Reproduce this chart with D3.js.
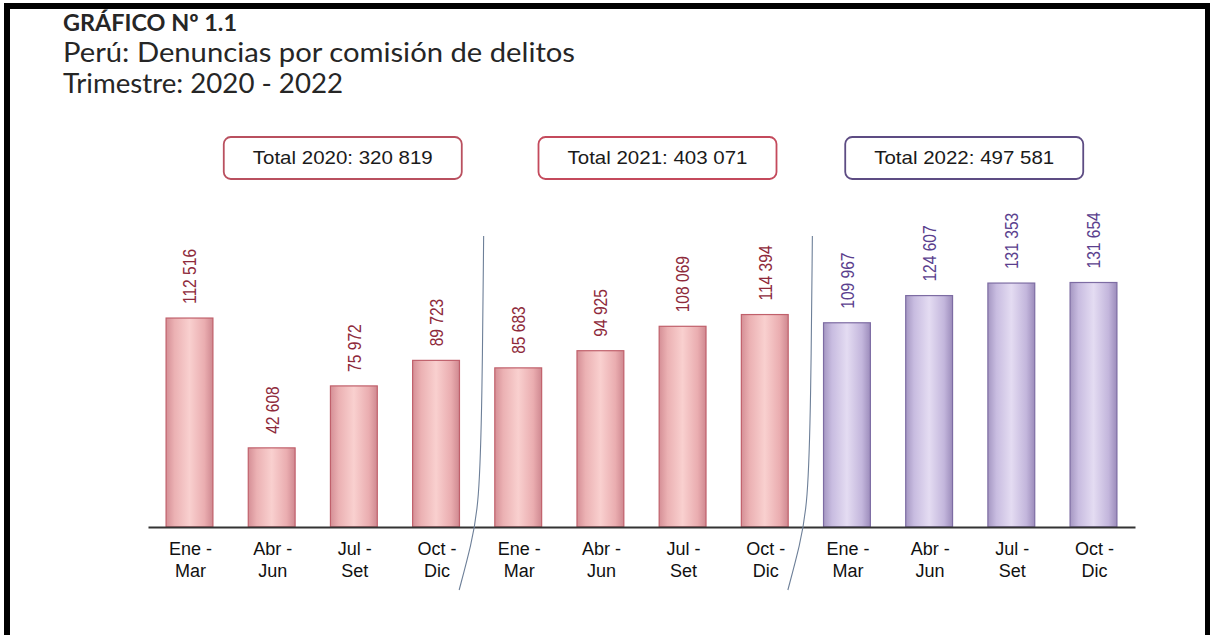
<!DOCTYPE html>
<html>
<head>
<meta charset="utf-8">
<script src="https://cdn.jsdelivr.net/npm/d3@7"></script>
<style>
  html, body { margin: 0; padding: 0; background: #fff; }
  svg { display: block; }
</style>
</head>
<body>
<div id="chart"></div>
<script>
// data
const years = ['2020', '2021', '2022'];
const quarters = [['Ene -', 'Mar'], ['Abr -', 'Jun'], ['Jul -', 'Set'], ['Oct -', 'Dic']];
const values2020 = [112516, 42608, 75972, 89723];
const values2021 = [85683, 94925, 108069, 114394];
const values2022 = [109967, 124607, 131353, 131654];
const totals = [320819, 403071, 497581];
const titleLines = ['GRÁFICO Nº 1.1', 'Perú: Denuncias por comisión de delitos', 'Trimestre: 2020 - 2022'];

const width = 1210, height = 635;
const fmt = d3.formatLocale({ thousands: ' ', grouping: [3], decimal: ',', currency: ['', ''] }).format(',d');

// flat table for the bars
const rows = [];
[values2020, values2021, values2022].forEach((vals, yi) => {
    vals.forEach((v, qi) => rows.push({ key: years[yi] + '-' + qi, year: years[yi], yi, qi, value: v }));
});

const svg = d3.select('#chart').append('svg')
    .attr('width', width).attr('height', height)
    .style('font-family', '"Liberation Sans", Arial, sans-serif');

// gradients (cylinder look)
const defs = svg.append('defs');
const grads = {
    red: ['#d58f96', '#ebb1b3', '#f9d0cf', '#eaadb0', '#cf8890'],
    purple: ['#a597c2', '#c8bce0', '#e4dcf2', '#c3b6dc', '#9c8cbb']
};
Object.entries(grads).forEach(([name, cols]) => {
    const g = defs.append('linearGradient').attr('id', 'g-' + name)
        .attr('x1', '0%').attr('x2', '100%').attr('y1', '0%').attr('y2', '0%');
    [0, 18, 50, 82, 100].forEach((o, i) => g.append('stop').attr('offset', o + '%').attr('stop-color', cols[i]));
});

// frame
svg.append('rect')
    .attr('x', 7).attr('y', 6).attr('width', 1201).attr('height', 700)
    .attr('fill', 'none').attr('stroke', '#000').attr('stroke-width', 6);

// title block (widths matched to the original Calibri text)
const titleWidths = [174, 512, 280];
const titleSizes = [23, 26, 26];
const titleG = svg.append('g').style('font-family', 'Lato, "Open Sans", sans-serif').attr('fill', '#262626');
titleG.selectAll('text').data(titleLines).join('text')
    .attr('x', 63)
    .attr('y', (d, i) => 31 + i * 31)
    .attr('textLength', (d, i) => titleWidths[i])
    .attr('lengthAdjust', 'spacingAndGlyphs')
    .style('font-size', (d, i) => titleSizes[i] + 'px')
    .style('font-weight', (d, i) => i === 0 ? 'bold' : 'normal')
    .text(d => d);

// scales
const baseY = 527;
const x = d3.scaleBand(rows.map(d => d.key), [148, 1135]).paddingInner(0.43).paddingOuter(0.22);
const y = d3.scaleLinear([0, 140000], [baseY, baseY - 260]);

const redOrPurple = d => d.year === '2022' ? 'purple' : 'red';
const strokeCol = { red: '#c0606b', purple: '#7d6ca3' };
const labelCol = { red: '#8e2a3b', purple: '#5b3f8e' };

// bars
svg.append('g').selectAll('rect').data(rows).join('rect')
    .attr('x', d => x(d.key))
    .attr('y', d => y(d.value))
    .attr('width', x.bandwidth())
    .attr('height', d => y(0) - y(d.value))
    .attr('fill', d => `url(#g-${redOrPurple(d)})`)
    .attr('stroke', d => strokeCol[redOrPurple(d)])
    .attr('stroke-width', 1.2);

// value labels, rotated
svg.append('g').selectAll('text').data(rows).join('text')
    .attr('transform', d => `translate(${x(d.key) + x.bandwidth() / 2},${y(d.value) - 14}) rotate(-90) scale(0.82,1)`)
    .attr('dy', '0.36em')
    .attr('fill', d => labelCol[redOrPurple(d)])
    .style('font-size', '19px')
    .text(d => fmt(d.value));

// baseline axis
const axis = svg.append('g').attr('transform', `translate(0,${baseY})`)
    .call(d3.axisBottom(x).tickSize(0).tickFormat(''));
axis.select('.domain').attr('stroke', '#333').attr('stroke-width', 2);

// category labels (two lines)
const catG = svg.append('g').style('font-size', '18px').attr('fill', '#111').attr('text-anchor', 'middle');
rows.forEach(d => {
    const cx = x(d.key) + x.bandwidth() / 2 + 1;
    const t = catG.append('text').attr('x', cx).attr('y', 555);
    t.append('tspan').attr('x', cx).text(quarters[d.qi][0]);
    t.append('tspan').attr('x', cx).attr('dy', 22).text(quarters[d.qi][1]);
});

// separators between years
const sepLine = d3.line().curve(d3.curveBasis);
[0, 1].forEach(yi => {
    const left = x(years[yi] + '-3') + x.bandwidth();
    const right = x(years[yi + 1] + '-0');
    const mid = (left + right) / 2;
    const pts = [[mid + 6.5, 236], [mid + 5, 400], [mid + 2, 505], [mid - 6, 545], [mid - 18, 590]];
    svg.append('path').attr('d', sepLine(pts))
        .attr('fill', 'none').attr('stroke', '#6d7f98').attr('stroke-width', 1.1);
});

// total boxes
const boxOffset = [30, 16, -6];
const boxCol = ['#b9505f', '#c44a5c', '#5d4c83'];
years.forEach((yr, yi) => {
    const left = x(yr + '-0'), right = x(yr + '-3') + x.bandwidth();
    const cx = (left + right) / 2 + boxOffset[yi];
    const g = svg.append('g');
    g.append('rect')
        .attr('x', cx - 119).attr('y', 137).attr('width', 238).attr('height', 42)
        .attr('rx', 7).attr('fill', '#fff')
        .attr('stroke', boxCol[yi]).attr('stroke-width', 1.8);
    g.append('text')
        .attr('x', cx).attr('y', 164)
        .attr('text-anchor', 'middle')
        .attr('textLength', 180).attr('lengthAdjust', 'spacingAndGlyphs')
        .style('font-size', '19px').attr('fill', '#1a1a1a')
        .text(`Total ${yr}: ${fmt(totals[yi])}`);
});
</script>
</body>
</html>
